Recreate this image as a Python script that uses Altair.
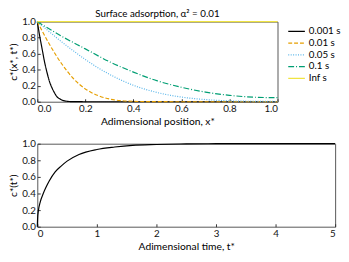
import altair as alt
import pandas as pd

# ---- top panel data ----
labels = ["0.001 s", "0.01 s", "0.05 s", "0.1 s", "Inf s"]
colors = ["#000000", "#E69F00", "#56B4E9", "#009E73", "#F0E442"]
dashes = [[1, 0], [4, 2], [1, 1.5], [6, 2, 1, 2], [1, 0]]

x_0001 = [0, 0.01, 0.02, 0.03, 0.04, 0.05, 0.06, 0.07, 0.08, 0.1, 0.12, 0.15, 0.2, 0.3, 0.5, 1.0]
c_0001 = [1, 0.82, 0.66, 0.50, 0.37, 0.26, 0.18, 0.12, 0.07, 0.025, 0.007, 0.001, 0, 0, 0, 0]
x_001 = [0, 0.05, 0.1, 0.15, 0.2, 0.25, 0.3, 0.35, 0.4, 0.45, 0.5, 0.6, 0.8, 1.0]
c_001 = [1, 0.72, 0.48, 0.29, 0.16, 0.08, 0.034, 0.013, 0.005, 0.0015, 0.0004, 0, 0, 0]
x_005 = [0, 0.05, 0.1, 0.15, 0.2, 0.25, 0.3, 0.4, 0.5, 0.6, 0.7, 0.8, 0.9, 1.0]
c_005 = [1, 0.874, 0.751, 0.636, 0.527, 0.429, 0.343, 0.205, 0.114, 0.058, 0.027, 0.011, 0.005, 0.003]
x_01 = [0, 0.1, 0.2, 0.3, 0.4, 0.5, 0.6, 0.7, 0.8, 0.9, 1.0]
c_01 = [1, 0.82, 0.66, 0.50, 0.37, 0.26, 0.18, 0.12, 0.08, 0.057, 0.05]
x_inf = [0, 1.0]
c_inf = [1, 1]

# ---- bottom panel data ----
t_vals = [0, 0.005, 0.02, 0.05, 0.1, 0.15, 0.2, 0.3, 0.4, 0.5, 0.7, 1.0, 1.3, 1.6, 2.0, 2.5, 3.0, 4.0, 5.0]
c_t = [0, 0.1, 0.2, 0.3, 0.4, 0.48, 0.55, 0.66, 0.73, 0.79, 0.87, 0.93, 0.96, 0.98, 0.99, 0.997, 1, 1, 1]

rows = []
for lab, xs, cs in zip(labels, [x_0001, x_001, x_005, x_01, x_inf], [c_0001, c_001, c_005, c_01, c_inf]):
    for i, (xv, cv) in enumerate(zip(xs, cs)):
        rows.append({"x": xv, "c": cv, "series": lab, "i": i})
top_df = pd.DataFrame(rows)
bot_df = pd.DataFrame({"t": t_vals, "c": c_t})

FONT = "Lato"

top = alt.Chart(top_df).mark_line(strokeWidth=1.2, interpolate="monotone").encode(
    x=alt.X("x:Q", scale=alt.Scale(domain=[0, 1], nice=False),
            axis=alt.Axis(title="Adimensional position, x*", values=[0, 0.2, 0.4, 0.6, 0.8, 1.0], format=".1f")),
    y=alt.Y("c:Q", scale=alt.Scale(domain=[0, 1], nice=False),
            axis=alt.Axis(title="c*(x*, t*)", values=[0, 0.2, 0.4, 0.6, 0.8, 1.0], format=".1f")),
    color=alt.Color("series:N", sort=labels, scale=alt.Scale(domain=labels, range=colors),
                    legend=alt.Legend(title=None, orient="none", legendX=256, legendY=4,
                                      symbolType="stroke", symbolSize=290, symbolStrokeWidth=1.3,
                                      clipHeight=12, labelFontSize=10, labelFont=FONT,
                                      rowPadding=0, labelOffset=3)),
    strokeDash=alt.StrokeDash("series:N", sort=labels, scale=alt.Scale(domain=labels, range=dashes)),
    order="i:Q",
).properties(width=246, height=82,
             title=alt.TitleParams("Surface adsorption, α² = 0.01", fontSize=10, font=FONT,
                                   fontWeight="normal", offset=-2))

bottom = alt.Chart(bot_df).mark_line(strokeWidth=1.2, color="#000000", interpolate="monotone").encode(
    x=alt.X("t:Q", scale=alt.Scale(domain=[0, 5], nice=False),
            axis=alt.Axis(title="Adimensional time, t*", values=[0, 1, 2, 3, 4, 5], format="d")),
    y=alt.Y("c:Q", scale=alt.Scale(domain=[0, 1], nice=False),
            axis=alt.Axis(title="c*(t*)", values=[0, 0.2, 0.4, 0.6, 0.8, 1.0], format=".1f")),
).properties(width=305, height=85)

chart = alt.vconcat(top, bottom, spacing=11).configure(
    padding={"left": 0, "top": -3, "right": 0, "bottom": 0}
).configure_view(stroke="#555555", strokeWidth=1).configure_axis(
    grid=False, domain=False, tickColor="#333333", tickSize=3, offset=-3,
    labelFont=FONT, titleFont=FONT,
    labelFontSize=10, titleFontSize=10.5, titleFontWeight="normal", labelColor="#111111",
    titleColor="#000000", labelPadding=2, titlePadding=3
)

chart.save("out.html", embed_options={"renderer": "svg", "actions": False})
